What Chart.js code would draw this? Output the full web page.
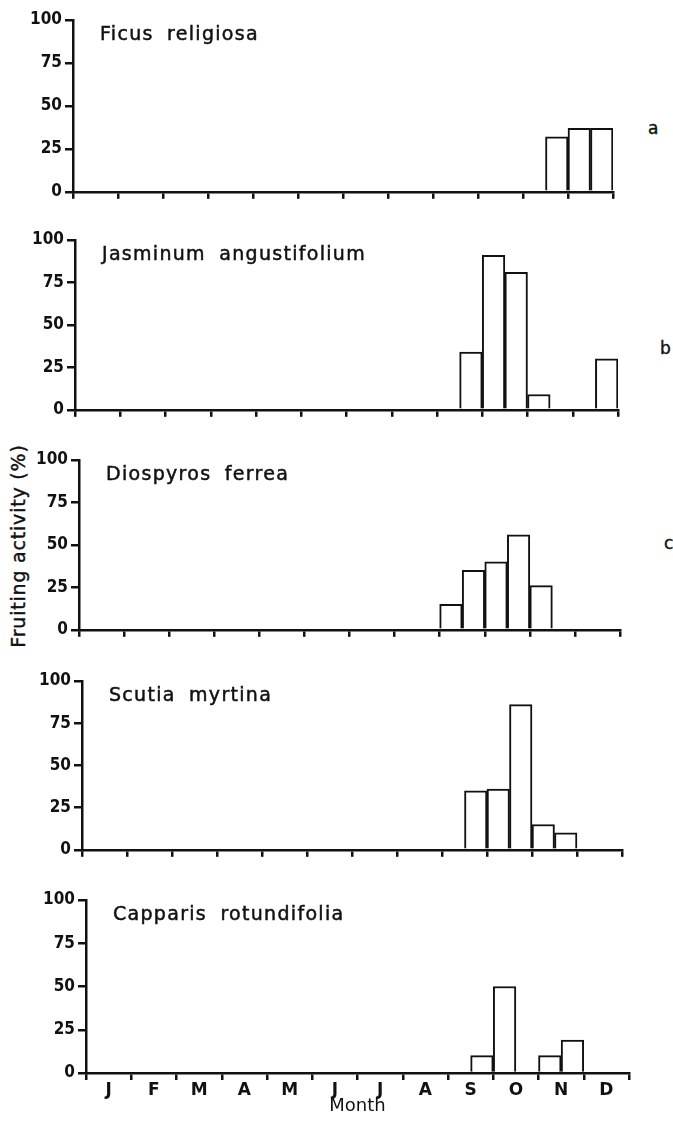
<!DOCTYPE html>
<html>
<head>
<meta charset="utf-8">
<script src="https://cdn.jsdelivr.net/npm/chart.js@4.4.1/dist/chart.umd.min.js"></script>
<style>
  html, body { margin: 0; padding: 0; background: #fff; }
  body { width: 673px; height: 1122px; position: relative; overflow: hidden; font-family: "DejaVu Sans", sans-serif; color: #111; }
  canvas { position: absolute; left: 0; }
  .ylab { position: absolute; left: -112px; top: 535px; width: 260px; text-align: center; font-size: 19px; transform: rotate(-90deg); letter-spacing: 0.8px; -webkit-text-stroke: 0.4px #111; }
  .tag { position: absolute; font-size: 17px; -webkit-text-stroke: 0.4px #111; }
</style>
</head>
<body>
<div class="ylab">Fruiting activity (%)</div>
<div class="tag" style="left:648px;top:118px">a</div>
<div class="tag" style="left:660px;top:338px">b</div>
<div class="tag" style="left:664px;top:533px">c</div>
<script>
// half-month bins: J1 J2 F1 F2 ... D1 D2
const months = ["J", "F", "M", "A", "M", "J", "J", "A", "S", "O", "N", "D"];
const yTicks = [0, 25, 50, 75, 100];

const species = ["Ficus religiosa", "Jasminum angustifolium", "Diospyros ferrea", "Scutia myrtina", "Capparis rotundifolia"];

const ficus     = [0,0,0,0,0,0,0,0,0,0,0,0,0,0,0,0,0,0,0,0,0,32,37,37];
const jasminum  = [0,0,0,0,0,0,0,0,0,0,0,0,0,0,0,0,0,34,91,81,9,0,0,30];
const diospyros = [0,0,0,0,0,0,0,0,0,0,0,0,0,0,0,0,15,35,40,56,26,0,0,0];
const scutia    = [0,0,0,0,0,0,0,0,0,0,0,0,0,0,0,0,0,35,36,86,15,10,0,0];
const capparis  = [0,0,0,0,0,0,0,0,0,0,0,0,0,0,0,0,0,10,50,0,10,19,0,0];

const series = [ficus, jasminum, diospyros, scutia, capparis];

// panel placement (page pixels): 100-line, 0-line, axis left / right
const plotTop    = [20, 240, 460, 681, 900];
const plotBottom = [195, 413, 633, 853, 1073];
const plotLeft   = [73, 75, 79, 82, 86];
const plotRight  = [613, 618, 620, 622, 629];

const ink = "#111";
const numFont = { family: "'DejaVu Sans Condensed', 'DejaVu Sans', sans-serif", size: 17, weight: "bold" };

// species name inside the plot
const namePlugin = {
  id: "speciesName",
  afterDraw(chart, args, opts) {
    const ctx = chart.ctx;
    const a = chart.chartArea;
    ctx.save();
    ctx.fillStyle = ink;
    ctx.strokeStyle = ink;
    ctx.lineWidth = 0.5;
    ctx.font = "19px 'DejaVu Sans', sans-serif";
    ctx.letterSpacing = "1.3px";
    ctx.wordSpacing = "6px";
    ctx.textBaseline = "middle";
    ctx.fillText(opts.text, a.left + 27, a.top + 15);
    ctx.strokeText(opts.text, a.left + 27, a.top + 15);
    ctx.restore();
  }
};

series.forEach((vals, p) => {
  const last = p === series.length - 1;
  const xh = last ? 46 : 10;
  const canvas = document.createElement("canvas");
  const h = plotBottom[p] - plotTop[p] + 20 + xh;
  canvas.width = 673;
  canvas.height = h;
  canvas.style.top = (plotTop[p] - 20) + "px";
  canvas.style.width = "673px";
  canvas.style.height = h + "px";
  document.body.appendChild(canvas);

  new Chart(canvas.getContext("2d"), {
    type: "bar",
    data: {
      datasets: [{
        data: vals.map((v, i) => ({ x: i + 0.5, y: v })),
        backgroundColor: "#fff",
        borderColor: ink,
        borderWidth: 2,
        barPercentage: 1,
        categoryPercentage: 1
      }]
    },
    options: {
      responsive: false,
      animation: false,
      events: [],
      layout: { padding: { top: 20, left: 0, right: 673 - plotRight[p], bottom: 0 } },
      plugins: {
        legend: { display: false },
        tooltip: { enabled: false },
        speciesName: { text: species[p] }
      },
      scales: {
        x: {
          type: "linear",
          min: 0,
          max: 24,
          offset: false,
          afterBuildTicks: s => { s.ticks = Array.from({ length: 25 }, (_, i) => ({ value: i })); },
          afterFit: s => { s.height = xh; },
          border: { display: true, color: ink, width: 2.5 },
          grid: {
            offset: false,
            drawOnChartArea: false,
            tickLength: 7,
            lineWidth: 2.5,
            color: c => (c.tick && c.tick.value % 2 === 0) ? ink : "rgba(0,0,0,0)"
          },
          ticks: {
            display: last,
            autoSkip: false,
            maxRotation: 0,
            padding: 0,
            color: ink,
            font: { family: "'DejaVu Sans', sans-serif", size: 17, weight: "bold" },
            callback: v => (v % 2 === 1) ? months[(v - 1) / 2] : ""
          },
          title: {
            display: last,
            text: "Month",
            color: ink,
            font: { family: "'DejaVu Sans', sans-serif", size: 18, weight: "500" },
            padding: { top: 0, bottom: 2 }
          }
        },
        y: {
          min: 0,
          max: 100,
          afterBuildTicks: s => { s.ticks = yTicks.map(v => ({ value: v })); },
          afterFit: s => { s.width = plotLeft[p]; },
          border: { display: true, color: ink, width: 2.5 },
          grid: { drawOnChartArea: false, tickLength: 8, lineWidth: 2.5, color: ink },
          ticks: { color: ink, font: numFont, padding: 3 }
        }
      }
    },
    plugins: [namePlugin]
  });
});
</script>
</body>
</html>
